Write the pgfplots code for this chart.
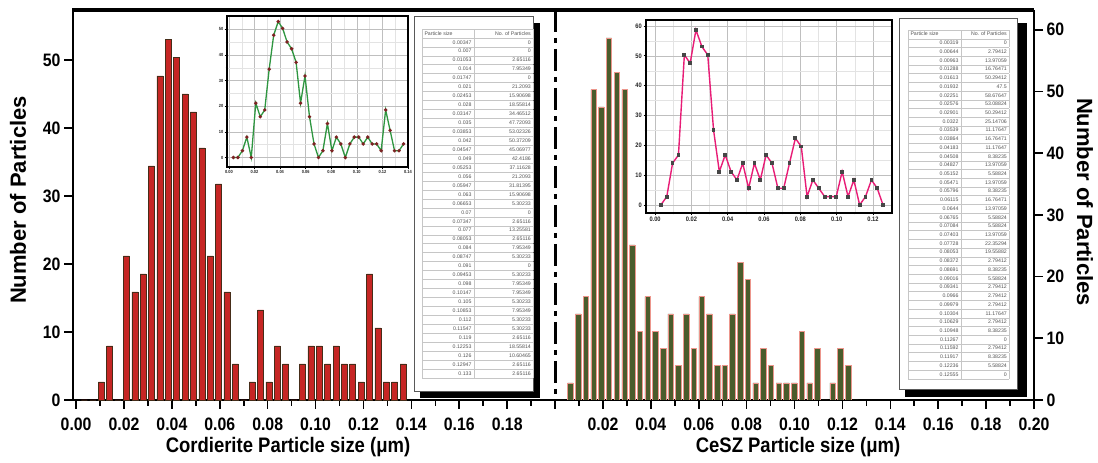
\documentclass[border=0pt]{standalone}
\usepackage{fontspec}
\setmainfont{Liberation Sans}
\newfontfamily\labfont{Liberation Sans}[FakeStretch=0.88]
\usepackage{pgfplots}
\pgfplotsset{compat=1.18}
\usepackage{pgfplotstable}
\usepackage{array}
\usepackage{colortbl}
\newcolumntype{R}[1]{>{\raggedleft\arraybackslash}p{#1}}

\definecolor{cordfill}{RGB}{198,38,36}
\definecolor{cordedge}{RGB}{70,45,25}
\definecolor{ceszfill}{RGB}{74,92,44}
\definecolor{ceszedge}{RGB}{236,150,140}
\definecolor{cordline}{RGB}{46,150,64}
\definecolor{corddot}{RGB}{125,35,35}
\definecolor{ceszline}{RGB}{232,28,118}
\definecolor{ceszdot}{RGB}{70,70,70}
\definecolor{tabtext}{RGB}{85,85,85}

% Cordierite size distribution (particle size in um, number of particles)
\pgfplotstableread{
x y
0.00347 0
0.007 0
0.01053 2.65116
0.014 7.95349
0.01747 0
0.021 21.2093
0.02453 15.90698
0.028 18.55814
0.03147 34.46512
0.035 47.72093
0.03853 53.02326
0.042 50.37209
0.04547 45.06977
0.049 42.4186
0.05253 37.11628
0.056 21.2093
0.05947 31.81395
0.063 15.90698
0.06653 5.30233
0.07 0
0.07347 2.65116
0.077 13.25581
0.08053 2.65116
0.084 7.95349
0.08747 5.30233
0.091 0
0.09453 5.30233
0.098 7.95349
0.10147 7.95349
0.105 5.30233
0.10853 7.95349
0.112 5.30233
0.11547 5.30233
0.119 2.65116
0.12253 18.55814
0.126 10.60465
0.12947 2.65116
0.133 2.65116
0.13653 5.30233
}\cord

% CeSZ size distribution
\pgfplotstableread{
x y
0.00319 0
0.00644 2.79412
0.00963 13.97059
0.01288 16.76471
0.01613 50.29412
0.01932 47.5
0.02251 58.67647
0.02576 53.08824
0.02901 50.29412
0.0322 25.14706
0.03539 11.17647
0.03864 16.76471
0.04183 11.17647
0.04508 8.38235
0.04827 13.97059
0.05152 5.58824
0.05471 13.97059
0.05796 8.38235
0.06115 16.76471
0.0644 13.97059
0.06765 5.58824
0.07084 5.58824
0.07403 13.97059
0.07728 22.35294
0.08053 19.55882
0.08372 2.79412
0.08691 8.38235
0.09016 5.58824
0.09341 2.79412
0.0966 2.79412
0.09979 2.79412
0.10304 11.17647
0.10629 2.79412
0.10948 8.38235
0.11267 0
0.11592 2.79412
0.11917 8.38235
0.12236 5.58824
0.12555 0
}\cesz

\pgfplotsset{
  mainaxis/.style={
    at={(73pt,63pt)}, anchor=south west, scale only axis,
    width=961pt, height=390pt,
    xmin=-0.0013, xmax=0.40, ymin=0,
    axis line style={line width=2pt, black},
    tick align=outside, major tick length=9pt, minor tick length=6pt,
    tick style={black, line width=1.6pt},
    /pgf/number format/assume math mode=true,
    tick label style={font=\labfont\bfseries\fontsize{18}{20}\selectfont},
  },
  inset/.style={
    anchor=south west, scale only axis,
    axis background/.style={fill=white},
    axis line style={line width=1.2pt, black},
    grid=both,
    major grid style={gray!50, line width=0.5pt},
    minor grid style={gray!22, line width=0.4pt},
    minor x tick num=1, minor y tick num=1,
    tick pos=left, tick align=outside,
    major tick length=2.5pt, minor tick length=1.5pt,
    tick style={black, line width=0.6pt},
    /pgf/number format/assume math mode=true,
  },
}

\begin{document}
\begin{tikzpicture}
\path[use as bounding box] (0,0) rectangle (1098pt,463pt);

% left half: cordierite histogram on the left scale
\begin{axis}[mainaxis, ymax=57.4, clip=false,
  axis x line*=bottom, axis y line*=left,
  xtick={0,0.02,0.04,0.06,0.08,0.10,0.12,0.14,0.16,0.18,0.20,0.22,0.24,0.26,0.28,0.30,0.32,0.34,0.36,0.38,0.40},
  xticklabels={0.00,0.02,0.04,0.06,0.08,0.10,0.12,0.14,0.16,0.18,{},0.02,0.04,0.06,0.08,0.10,0.12,0.14,0.16,0.18,0.20},
  minor xtick={0.01,0.03,0.05,0.07,0.09,0.11,0.13,0.15,0.17,0.19,0.21,0.23,0.25,0.27,0.29,0.31,0.33,0.35,0.37,0.39},
  ytick={0,10,20,30,40,50},
  xticklabel style={yshift=-5pt},
]
\addplot[ybar, bar width=0.0025, fill=cordfill, draw=cordedge, line width=0.5pt]
  table[x=x, y=y]{\cord};
\draw[line width=3pt, dash pattern=on 22pt off 6pt on 5pt off 6pt]
  (axis cs:0.2,57.4) -- (axis cs:0.2,0);
\end{axis}

% right half: CeSZ histogram on the right scale
\begin{axis}[mainaxis, ymax=63.2,
  axis x line=none, axis y line*=right,
  ytick={0,10,20,30,40,50,60},
]
\addplot[ybar, bar width=0.0023, fill=ceszfill, draw=ceszedge, line width=0.5pt]
  table[x expr=\thisrow{x}+0.2, y=y]{\cesz};
\end{axis}

% heavy top edge of the frame
\fill[black] (72pt,451pt) rectangle (1034pt,454.5pt);

% cordierite distribution curve
\begin{axis}[inset, at={(227pt,296pt)}, width=181pt, height=151pt,
  xmin=-0.0015, xmax=0.14, ymin=-3.7, ymax=55.2,
  xtick={0,0.02,0.04,0.06,0.08,0.10,0.12,0.14},
  xticklabels={0.00,0.02,0.04,0.06,0.08,0.10,0.12,0.14},
  ytick={0,10,20,30,40,50},
  tick label style={font=\labfont\bfseries\fontsize{4.5}{5}\selectfont, text=gray!30!black, inner sep=1pt},
]
\addplot[color=cordline, line width=1.3pt, mark=*, mark size=1pt,
  mark options={fill=corddot, draw=corddot}] table[x=x, y=y]{\cord};
\end{axis}

% CeSZ distribution curve
\begin{axis}[inset, at={(646pt,250pt)}, width=246pt, height=193pt,
  xmin=-0.005, xmax=0.1305, ymin=-2.7, ymax=62,
  xtick={0,0.02,0.04,0.06,0.08,0.10,0.12},
  xticklabels={0.00,0.02,0.04,0.06,0.08,0.10,0.12},
  ytick={0,10,20,30,40,50,60},
  tick label style={font=\labfont\bfseries\fontsize{6.5}{7}\selectfont, text=gray!30!black, inner sep=1.5pt},
]
\addplot[color=ceszline, line width=1.4pt, mark=square*, mark size=1.2pt,
  mark options={fill=ceszdot, draw=ceszdot}] table[x=x, y=y]{\cesz};
\end{axis}

% data tables with drop shadows
\fill[black] (420pt,65pt) rectangle (540pt,440pt);
\filldraw[fill=white, draw=gray!70!black, line width=1pt] (414pt,71pt) rectangle (533pt,446pt);
\node[anchor=north west, inner sep=0pt, text=tabtext] at (422pt,434.5pt) {%
  \fontsize{5.2}{8.65}\selectfont
  \setlength\tabcolsep{2pt}\setlength\arrayrulewidth{0.3pt}\arrayrulecolor{gray!45}%
  \pgfplotstabletypeset[
    skip rows between index={38}{39},
    columns={x,y},
    columns/x/.style={string type, column type={|R{47pt}|}},
    columns/y/.style={string type, column type={R{55pt}|}},
    every head row/.style={output empty row,
      before row={\hline\multicolumn{1}{|l|}{Particle size} & \multicolumn{1}{r|}{No. of Particles}\\\hline}},
    every even row/.style={after row=\hline},
    every odd row/.style={after row=\hline},
  ]{\cord}%
};

\fill[black] (905pt,66pt) rectangle (1027pt,440pt);
\filldraw[fill=white, draw=gray!70!black, line width=1pt] (899pt,73pt) rectangle (1017pt,444pt);
\node[anchor=north west, inner sep=0pt, text=tabtext] at (908pt,433.4pt) {%
  \fontsize{5.2}{8.42}\selectfont
  \setlength\tabcolsep{2pt}\setlength\arrayrulewidth{0.3pt}\arrayrulecolor{gray!45}%
  \pgfplotstabletypeset[
    columns={x,y},
    columns/x/.style={string type, column type={|R{48pt}|}},
    columns/y/.style={string type, column type={R{44pt}|}},
    every head row/.style={output empty row,
      before row={\hline\multicolumn{1}{|l|}{Particle size} & \multicolumn{1}{r|}{No. of Particles}\\\hline}},
    every even row/.style={after row=\hline},
    every odd row/.style={after row=\hline},
  ]{\cesz}%
};

% axis titles
\node[rotate=90, font=\bfseries\fontsize{22}{26}\selectfont] at (18pt,263pt) {Number of Particles};
\node[rotate=-90, font=\bfseries\fontsize{22}{26}\selectfont] at (1085pt,261pt) {Number of Particles};
\node[font=\labfont\bfseries\fontsize{21}{24}\selectfont] at (288pt,16pt) {Cordierite Particle size (μm)};
\node[font=\labfont\bfseries\fontsize{21}{24}\selectfont] at (798pt,16pt) {CeSZ Particle size (μm)};
\end{tikzpicture}
\end{document}
